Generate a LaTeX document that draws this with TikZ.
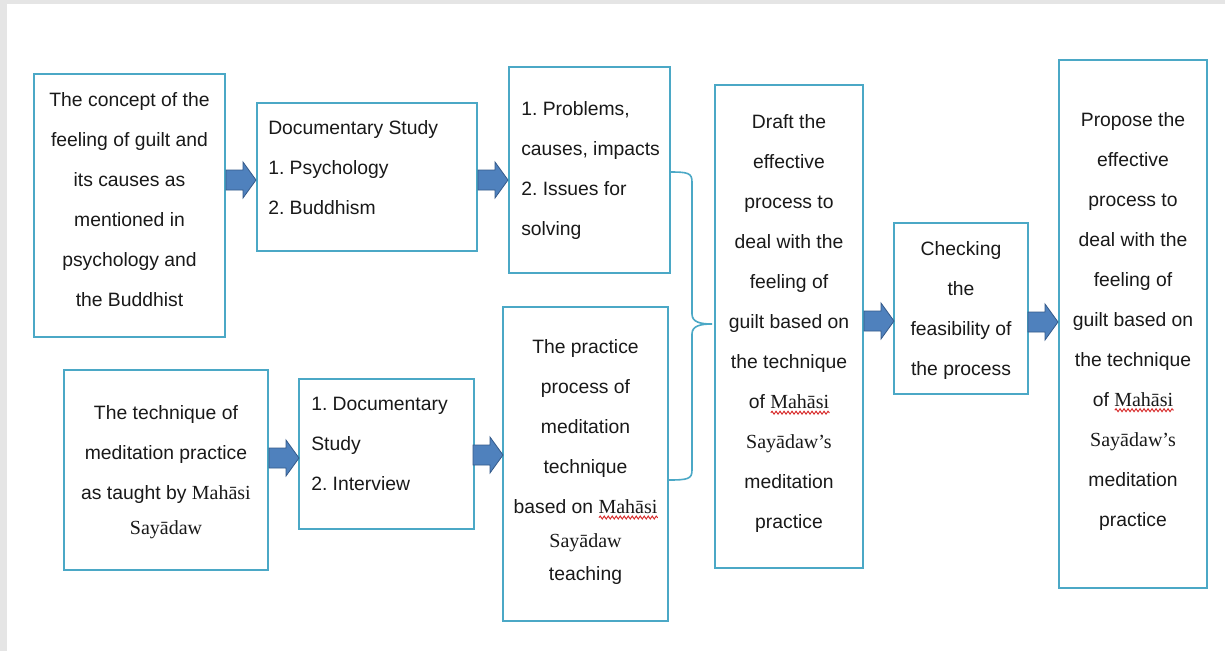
\documentclass[tikz,border=0pt]{standalone}
\usepackage{fontspec}
\setmainfont{Liberation Sans}
\newfontfamily\serifpart{Liberation Serif}
\usetikzlibrary{calc,decorations.pathmorphing}
\frenchspacing

\definecolor{boxline}{RGB}{75,168,198}
\definecolor{arrfill}{RGB}{79,129,189}
\definecolor{arrline}{RGB}{52,90,138}
\definecolor{pagegrey}{RGB}{229,229,229}
\definecolor{squig}{RGB}{215,40,40}

% Pali names are set in a serif face; some carry a wavy red underline
\newcommand{\pali}[1]{{\serifpart\fontsize{15}{30}\selectfont #1}}
\newsavebox{\palibox}
\newlength{\palilen}
\newcommand{\spellmark}[1]{%
  \sbox{\palibox}{\pali{#1}}\setlength{\palilen}{\wd\palibox}%
  \rlap{\raisebox{-4.6pt}[0pt][0pt]{\tikz\draw[squig, line width=0.7pt,
      decorate, decoration={snake, amplitude=1.1pt, segment length=3pt}]
      (0pt,0pt) -- (\palilen,0pt);}}%
  \usebox{\palibox}}

% a framed box given by its corners (in pixel units)
\newcommand{\boxnode}[5]{%
  \node[box, minimum width={(#4-#2)*0.75pt}, minimum height={(#5-#3)*0.75pt}]
    (#1) at ({(#2+#4)/2},{(#3+#5)/2}) {};}

\tikzset{
  box/.style={draw=boxline, line width=1.5pt, inner sep=0pt, outer sep=0pt, fill=white},
  txt/.style={inner sep=0pt, font=\fontsize{14.5}{30}\selectfont, text=black!90},
  ctxt/.style={txt, align=center, anchor=center},
  ltxt/.style={txt, align=left, anchor=west},
  brace/.style={draw=boxline, line width=1.2pt},
  blockarr/.pic={\draw[draw=arrline, fill=arrfill, line width=0.6pt, line join=miter]
    (0,-10) -- (17,-10) -- (17,-18) -- (30,0) -- (17,18) -- (17,10) -- (0,10) -- cycle;}
}

\begin{document}
\begin{tikzpicture}[x=0.75pt, y=-0.75pt]
  \useasboundingbox (0,0) rectangle (1225,651);
  \fill[white] (0,0) rectangle (1225,651);
  \fill[pagegrey] (0,0) rectangle (7,651);
  \fill[pagegrey] (0,0) rectangle (1225,4);

  % boxes
  \boxnode{concept}{34}{74}{225}{337}
  \boxnode{docstudy}{257}{103}{477}{251}
  \boxnode{problems}{509}{67}{670}{273}
  \boxnode{technique}{64}{370}{268}{570}
  \boxnode{interview}{299}{379}{474}{529}
  \boxnode{practice}{503}{307}{668}{621}
  \boxnode{draft}{715}{85}{863}{568}
  \boxnode{checking}{894}{223}{1028}{394}
  \boxnode{propose}{1059}{60}{1207}{588}

  % texts
  \node[ctxt] (tconcept) at (129.5,199.5) {The concept of the\\feeling of guilt and\\its causes as\\mentioned in\\psychology and\\the Buddhist};
  \node[ltxt] (tdocstudy) at (268,168) {Documentary Study\\1. Psychology\\2. Buddhism};
  \node[ltxt] (tproblems) at (521,170) {1. Problems,\\causes, impacts\\2. Issues for\\solving};
  \node[ctxt] (ttechnique) at (166,472.5) {The technique of\\meditation practice\\as taught by \pali{Mahāsi}\\[-3.75pt]\pali{Sayādaw}};
  \node[ltxt] (tinterview) at (311,444) {1. Documentary\\Study\\2. Interview};
  \node[ctxt] (tpractice) at (585.5,462) {The practice\\process of\\meditation\\technique\\based on \spellmark{Mahāsi}\\[-4.5pt]\pali{Sayādaw}\\[-5pt]teaching};
  \node[ctxt] (tdraft) at (789,323.5) {Draft the\\effective\\process to\\deal with the\\feeling of\\guilt based on\\the technique\\of \spellmark{Mahāsi}\\\pali{Sayādaw’s}\\meditation\\practice};
  \node[ctxt] (tchecking) at (961,310.5) {Checking\\the\\feasibility of\\the process};
  \node[ctxt] (tpropose) at (1133,321) {Propose the\\effective\\process to\\deal with the\\feeling of\\guilt based on\\the technique\\of \spellmark{Mahāsi}\\\pali{Sayādaw’s}\\meditation\\practice};

  % block arrows between the stages
  \pic at (226,180) {blockarr};
  \pic at (478,180) {blockarr};
  \pic at (269,458) {blockarr};
  \pic at (473,455) {blockarr};
  \pic at (864,321) {blockarr};
  \pic at (1028,322) {blockarr};

  % brace joining the two middle results into the draft
  \coordinate (btop) at (problems.east |- 0,172);
  \coordinate (bbot) at (practice.east |- 0,480);
  \coordinate (btip) at (712,324);
  \draw[brace] (btop) .. controls (688,172) and (692,173) .. (692,182)
    -- (692,314) .. controls (692,322) and (700,324) .. (btip)
    .. controls (700,324) and (692,326) .. (692,334)
    -- (692,470) .. controls (692,479) and (688,480) .. (bbot);
\end{tikzpicture}
\end{document}
